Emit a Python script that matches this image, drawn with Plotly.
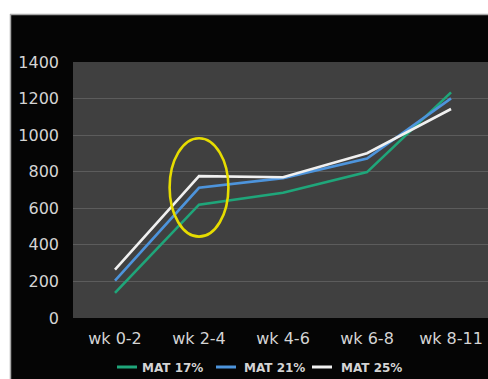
import plotly.graph_objects as go

# Weekly values per MAT level
weeks = ["wk 0-2", "wk 2-4", "wk 4-6", "wk 6-8", "wk 8-11"]
mat17 = [137, 620, 685, 798, 1234]
mat21 = [205, 712, 765, 872, 1201]
mat25 = [264, 776, 770, 901, 1143]
series_names = ["MAT 17%", "MAT 21%", "MAT 25%"]
series_colors = ["#1fa67a", "#4d94dc", "#f0f0f0"]
y_ticks = [0, 200, 400, 600, 800, 1000, 1200, 1400]

W, H = 488, 379
ML, MT, MB, MR = 73, 62, 61, 0
PW, PH = W - ML - MR, H - MT - MB


def px_x(p):
    return (p - ML) / PW


def px_y(p):
    return (H - MB - p) / PH


fig = go.Figure()
for name, vals, col in zip(series_names, [mat17, mat21, mat25], series_colors):
    fig.add_trace(go.Scatter(
        x=weeks, y=vals, mode="lines", name=name,
        line=dict(color=col, width=2.6), showlegend=False,
    ))

shapes = [
    # white margin strips around the dark panel
    dict(type="rect", xref="paper", yref="paper", x0=px_x(-5), x1=px_x(W + 5),
         y0=px_y(14), y1=px_y(-5), fillcolor="white", line_width=0, layer="above"),
    dict(type="rect", xref="paper", yref="paper", x0=px_x(-5), x1=px_x(10),
         y0=px_y(H + 5), y1=px_y(-5), fillcolor="white", line_width=0, layer="above"),
    dict(type="line", xref="paper", yref="paper", x0=px_x(10), x1=px_x(W + 5),
         y0=px_y(14.5), y1=px_y(14.5), line=dict(color="#a8a8a8", width=1.5), layer="above"),
    dict(type="line", xref="paper", yref="paper", x0=px_x(10.5), x1=px_x(10.5),
         y0=px_y(14), y1=px_y(H + 5), line=dict(color="#a8a8a8", width=1.5), layer="above"),
    # highlight ring around wk 2-4
    dict(type="circle", xref="x", yref="y", x0=0.65, x1=1.35, y0=445, y1=983,
         line=dict(color="#e6dc00", width=2.6)),
]

# legend row below the axis
legend_items = [(117, 137, 140), (216, 236, 242), (312, 332, 339)]
annotations = []
for (lx0, lx1, tx), name, col in zip(legend_items, series_names, series_colors):
    shapes.append(dict(type="line", xref="paper", yref="paper",
                       x0=px_x(lx0), x1=px_x(lx1), y0=px_y(367), y1=px_y(367),
                       line=dict(color=col, width=3), layer="above"))
    annotations.append(dict(xref="paper", yref="paper", x=px_x(tx), y=px_y(367.5),
                            xanchor="left", yanchor="middle", showarrow=False,
                            text="<b>" + name + "</b>",
                            font=dict(family="DejaVu Sans", size=12, color="#d4d4d4")))

fig.update_layout(
    width=W, height=H,
    margin=dict(l=ML, r=MR, t=MT, b=MB, pad=0),
    paper_bgcolor="#050505",
    plot_bgcolor="#404040",
    showlegend=False,
    shapes=shapes,
    annotations=annotations,
    xaxis=dict(type="category", range=[-0.5, 4.44], showgrid=False, zeroline=False,
               showline=False, ticks="", ticklabelstandoff=9,
               tickfont=dict(family="DejaVu Sans", size=16, color="#d4d4d4")),
    yaxis=dict(range=[0, 1400], tickvals=y_ticks, showgrid=True, gridcolor="#5c5c5c",
               gridwidth=1, zeroline=False, showline=False, ticks="",
               ticklabelstandoff=13,
               tickfont=dict(family="DejaVu Sans", size=16, color="#d4d4d4")),
)

fig.write_html("out.html")
